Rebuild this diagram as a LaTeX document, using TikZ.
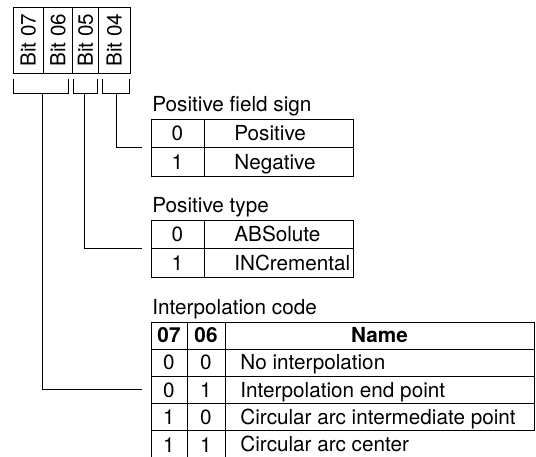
\documentclass[tikz,border=0pt]{standalone}
\usepackage{fontspec}
\setmainfont{TeX Gyre Heros}
\usepackage{graphicx}
\usetikzlibrary{positioning}

\begin{document}
\begin{tikzpicture}[
    x=1pt, y=-1pt,
    font=\fontsize{20.7pt}{24pt}\selectfont,
    line width=0.8pt,
    frame/.style={draw, outer sep=0pt, inner sep=0pt},
    bitcell/.style={frame, minimum height=66pt},
    cell/.style={frame, minimum height=28.5pt, text height=15pt, text depth=0pt},
    digit/.style={cell, minimum width=53pt},
    field/.style={cell, minimum width=149pt},
    hibit/.style={cell, minimum width=36pt, minimum height=27pt},
    lobit/.style={cell, minimum width=38pt, minimum height=27pt},
    codename/.style={cell, minimum width=309pt, minimum height=27pt},
    entry/.style={inner sep=0pt, text height=15pt, text depth=0pt},
    caption/.style={inner sep=0pt, anchor=base west}
  ]
  \useasboundingbox (0,0) rectangle (536,457);

  % bit header
  \node[bitcell, minimum width=30.5pt, anchor=north west] (b07) at (13,7) {\rotatebox{90}{Bit 07}};
  \node[bitcell, minimum width=29pt, right=0pt of b07] (b06) {\rotatebox{90}{Bit 06}};
  \node[bitcell, minimum width=26pt, right=0pt of b06] (b05) {\rotatebox{90}{Bit 05}};
  \node[bitcell, minimum width=31.5pt, right=0pt of b05] (b04) {\rotatebox{90}{Bit 04}};

  % brackets under the bits
  \draw (13,79) |- (68,93) -- (68,79);
  \draw (73,79) |- (97,93) -- (97,79);
  \draw (102,79) |- (129,93) -- (129,79);
  \coordinate (s76) at (42.5,93);
  \coordinate (s05) at (84,93);
  \coordinate (s04) at (116,93);

  % positive field sign
  \node[caption] (cap1) at (152,112) {Positive field sign};
  \node[digit, anchor=north west] (d1a) at (151,119) {0};
  \node[field, right=0pt of d1a] (f1a) {};
  \node[digit, below=0pt of d1a] (d1b) {1};
  \node[field, right=0pt of d1b] (f1b) {};
  \node[entry, right=30pt of f1a.west] (e1a) {Positive};
  \node[entry, right=30pt of f1b.west] (e1b) {Negative};

  % positive type
  \node[caption] (cap2) at (152,213) {Positive type};
  \node[digit, anchor=north west] (d2a) at (151,220) {0};
  \node[field, right=0pt of d2a] (f2a) {};
  \node[digit, below=0pt of d2a] (d2b) {1};
  \node[field, right=0pt of d2b] (f2b) {};
  \node[entry, right=30pt of f2a.west] (e2a) {ABSolute};
  \node[entry, right=30pt of f2b.west] (e2b) {INCremental};

  % interpolation code
  \node[caption] (cap3) at (152,315) {Interpolation code};
  \node[hibit, anchor=north west] (h07) at (151,322) {\bfseries 07};
  \node[lobit, right=0pt of h07] (h06) {\bfseries 06};
  \node[codename, right=0pt of h06] (hname) {\bfseries Name};

  \node[hibit, below=0pt of h07] (a07) {0};
  \node[lobit, right=0pt of a07] (a06) {0};
  \node[codename, right=0pt of a06] (aname) {};
  \node[entry, right=15pt of aname.west] (atext) {No interpolation};

  \node[hibit, below=0pt of a07] (b07r) {0};
  \node[lobit, right=0pt of b07r] (b06r) {1};
  \node[codename, right=0pt of b06r] (bname) {};
  \node[entry, right=15pt of bname.west] (btext) {Interpolation end point};

  \node[hibit, below=0pt of b07r] (c07) {1};
  \node[lobit, right=0pt of c07] (c06) {0};
  \node[codename, right=0pt of c06] (cname) {};
  \node[entry, right=15pt of cname.west] (ctext) {Circular arc intermediate point};

  \node[hibit, minimum height=30pt, below=0pt of c07] (d07) {1};
  \node[lobit, minimum height=30pt, right=0pt of d07] (d06) {1};
  \node[codename, draw=none, minimum height=30pt, right=0pt of d06] (dname) {};
  \node[entry, right=15pt of dname.west, yshift=1.5pt] (dtext) {Circular arc center};

  % connectors from the bits to the tables
  \coordinate (t04) at ([xshift=-9pt]d1a.south west);
  \coordinate (t05) at ([xshift=-9pt]d2a.south west);
  \coordinate (t76) at ([xshift=-9pt]b07r.west);
  \draw (s04) |- (t04);
  \draw (s05) |- (t05);
  \draw (s76) |- (t76);
\end{tikzpicture}
\end{document}
